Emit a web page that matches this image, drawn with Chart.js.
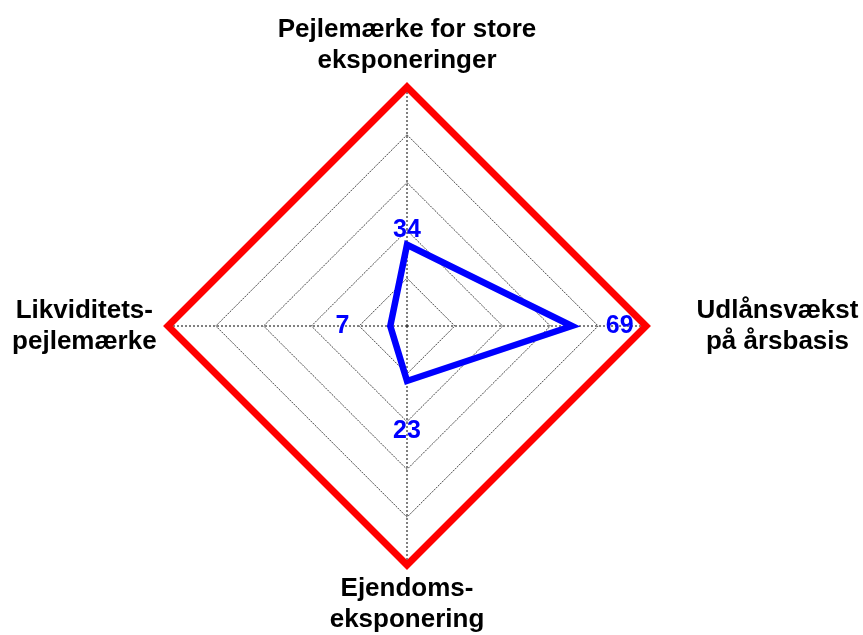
<!DOCTYPE html>
<html>
<head>
<meta charset="utf-8">
<script src="https://cdn.jsdelivr.net/npm/chart.js@4"></script>
<style>
  html, body { margin: 0; padding: 0; background: #fff; }
  #wrap { width: 863px; height: 635px; position: relative; }
</style>
</head>
<body>
<div id="wrap"><canvas id="radar"></canvas></div>
<script>
// ── Data ─────────────────────────────────────
var categories = [
  ['Pejlemærke for store', 'eksponeringer'],
  ['Udlånsvækst', 'på årsbasis'],
  ['Ejendoms-', 'eksponering'],
  ['Likviditets-', 'pejlemærke']
];
var values = [34, 69, 23, 7];
var limitValues = [100, 100, 100, 100];
var tickValues = [0, 20, 40, 60, 80, 100];

// ── Label plugin ─────────────────────────────
var labelPlugin = {
  id: 'radarLabels',
  afterDatasetsDraw: function(chart, args, opts) {
    var scale = chart.scales.r;
    var ctx = chart.ctx;
    ctx.save();
    ctx.textAlign = 'center';
    ctx.textBaseline = 'middle';

    // category labels
    ctx.fillStyle = '#000';
    ctx.font = 'bold 26px "Liberation Sans", Arial, sans-serif';
    categories.forEach(function(lines, i) {
      var p = scale.getPointPositionForValue(i, opts.catDist[i]);
      var lh = 31;
      var y0 = p.y - (lines.length - 1) * lh / 2;
      lines.forEach(function(t, j) { ctx.fillText(t, p.x, y0 + j * lh); });
    });

    // value labels
    ctx.fillStyle = '#0000FF';
    ctx.font = 'bold 25px "Liberation Sans", Arial, sans-serif';
    values.forEach(function(v, i) {
      var p = scale.getPointPositionForValue(i, v + opts.valOffset[i]);
      ctx.fillText(String(v), p.x, p.y);
    });
    ctx.restore();
  }
};

new Chart(document.getElementById('radar'), {
  type: 'radar',
  data: {
    labels: categories,
    datasets: [
      {
        label: 'Grænse',
        data: limitValues,
        borderColor: '#FF0000',
        borderWidth: 7,
        backgroundColor: 'rgba(0,0,0,0)',
        pointRadius: 0,
        fill: false
      },
      {
        label: 'Værdi',
        data: values,
        borderColor: '#0000FF',
        borderWidth: 6.5,
        backgroundColor: 'rgba(0,0,0,0)',
        pointRadius: 0,
        fill: false
      }
    ]
  },
  options: {
    responsive: true,
    maintainAspectRatio: false,
    animation: false,
    layout: { padding: { top: 87, bottom: 70, left: 168, right: 217 } },
    plugins: {
      legend: { display: false },
      tooltip: { enabled: false },
      radarLabels: {
        catDist: [117.5, 155, 116.5, 135],
        valOffset: [6, 20, 21, 20]
      }
    },
    scales: {
      r: {
        min: tickValues[0],
        max: tickValues[tickValues.length - 1],
        ticks: { display: false, stepSize: 20 },
        pointLabels: { display: false },
        grid: { color: '#444', lineWidth: 1 },
        border: { dash: [2, 1] },
        angleLines: { color: '#000', lineWidth: 1, borderDash: [2, 2] }
      }
    }
  },
  plugins: [labelPlugin]
});
</script>
</body>
</html>
